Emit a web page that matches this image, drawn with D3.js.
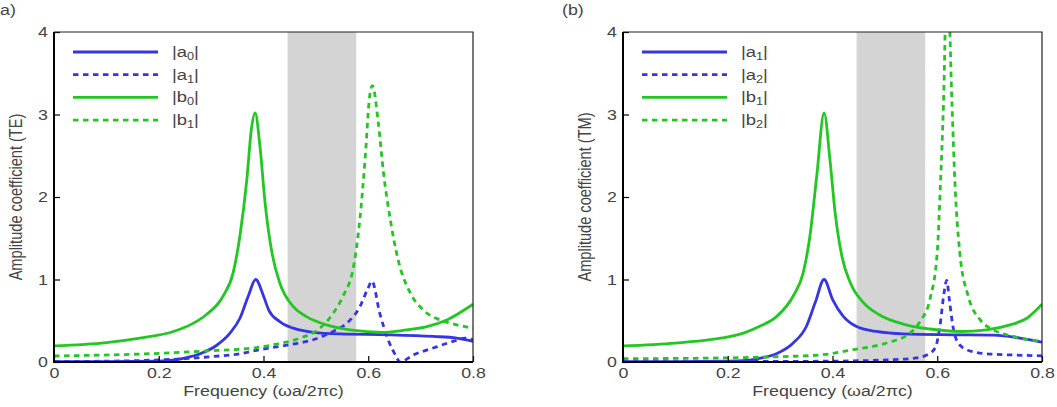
<!DOCTYPE html>
<html>
<head>
<meta charset="utf-8">
<script src="https://cdn.jsdelivr.net/npm/d3@7"></script>
<style>
  body { margin: 0; background: #fff; }
  svg { font-family: "Liberation Sans", Arial, sans-serif; }
  .tick text { fill: #444; font-size: 14px; }
  .tick line { stroke: #000; stroke-width: 1.2; }
  .title { fill: #444; font-size: 14px; }
</style>
</head>
<body>
<script>
// [frequency, amplitude]
var teA0 = [[0,0.003],[0.1,0.005],[0.2,0.01],[0.215,0.015],[0.247,0.045],[0.279,0.1],[0.31,0.2],[0.336,0.35],[0.355,0.53],[0.371,0.8],[0.385,1.0],[0.4,0.8],[0.41,0.63],[0.431,0.49],[0.457,0.41],[0.495,0.36],[0.546,0.34],[0.641,0.33],[0.724,0.31],[0.769,0.29],[0.8,0.25]];
var teA1 = [[0,0.005],[0.1,0.01],[0.2,0.025],[0.25,0.04],[0.3,0.065],[0.355,0.1],[0.393,0.15],[0.45,0.21],[0.495,0.27],[0.533,0.37],[0.559,0.47],[0.584,0.67],[0.6,0.9],[0.607,0.98],[0.622,0.59],[0.638,0.27],[0.654,0.06],[0.66,0.0],[0.686,0.085],[0.724,0.17],[0.762,0.25],[0.785,0.29],[0.8,0.27]];
var teB0 = [[0,0.195],[0.1,0.235],[0.164,0.29],[0.228,0.37],[0.26,0.45],[0.29,0.57],[0.323,0.8],[0.342,1.08],[0.355,1.53],[0.368,2.2],[0.377,2.83],[0.384,3.02],[0.393,2.63],[0.403,1.93],[0.416,1.33],[0.431,0.96],[0.457,0.67],[0.482,0.55],[0.52,0.45],[0.565,0.39],[0.629,0.36],[0.673,0.39],[0.712,0.43],[0.75,0.51],[0.8,0.7]];
var teB1 = [[0,0.073],[0.2,0.105],[0.29,0.134],[0.355,0.155],[0.387,0.175],[0.419,0.21],[0.47,0.29],[0.508,0.41],[0.533,0.59],[0.552,0.8],[0.572,1.16],[0.584,1.73],[0.594,2.46],[0.603,3.24],[0.608,3.35],[0.619,2.91],[0.629,2.3],[0.642,1.73],[0.657,1.24],[0.68,0.84],[0.705,0.63],[0.737,0.51],[0.769,0.45],[0.8,0.41]];

var tmA1 = [[0,0.003],[0.1,0.005],[0.2,0.01],[0.23,0.015],[0.26,0.045],[0.293,0.1],[0.325,0.23],[0.35,0.43],[0.367,0.72],[0.384,1.0],[0.4,0.76],[0.421,0.55],[0.446,0.43],[0.484,0.37],[0.535,0.34],[0.63,0.33],[0.707,0.325],[0.758,0.29],[0.8,0.24]];
var tmA2 = [[0,0.003],[0.2,0.005],[0.4,0.01],[0.45,0.015],[0.503,0.025],[0.554,0.045],[0.58,0.085],[0.596,0.17],[0.605,0.43],[0.613,0.84],[0.618,0.99],[0.623,0.76],[0.63,0.43],[0.64,0.23],[0.656,0.15],[0.694,0.1],[0.745,0.085],[0.8,0.075]];
var tmB1 = [[0,0.195],[0.1,0.23],[0.166,0.27],[0.23,0.35],[0.26,0.43],[0.293,0.55],[0.325,0.8],[0.344,1.08],[0.357,1.53],[0.37,2.26],[0.384,3.02],[0.395,2.46],[0.405,1.81],[0.418,1.28],[0.434,0.96],[0.459,0.72],[0.49,0.57],[0.535,0.46],[0.586,0.4],[0.643,0.37],[0.694,0.39],[0.739,0.45],[0.771,0.53],[0.8,0.7]];
var tmB2 = [[0,0.04],[0.2,0.05],[0.3,0.065],[0.376,0.085],[0.44,0.15],[0.503,0.23],[0.548,0.35],[0.567,0.49],[0.586,0.76],[0.6,1.33],[0.606,2.14],[0.612,3.15],[0.619,4.8],[0.628,3.15],[0.634,2.14],[0.643,1.33],[0.659,0.8],[0.682,0.51],[0.707,0.39],[0.745,0.31],[0.8,0.25]];

var gapBand = [0.446, 0.577];
var xTicks = [0, 0.2, 0.4, 0.6, 0.8];
var yTicks = [0, 1, 2, 3, 4];

const W = 1057, H = 407;
const BLUE = "#3535e6", GREEN = "#22c722";
const SX = 1.27; // the figure text is stretched sideways

var svg = d3.select("body").append("svg").attr("width", W).attr("height", H);

var drawPanel = function(opt){
  var left = opt.left, top = 32, w = 419, h = 330;
  var x = d3.scaleLinear().domain([0, 0.8]).range([0, w]);
  var y = d3.scaleLinear().domain([0, 4]).range([h, 0]);
  var g = svg.append("g").attr("transform", "translate(" + left + "," + top + ")");

  g.append("clipPath").attr("id", opt.id + "clip")
    .append("rect").attr("width", w).attr("height", h);

  g.append("rect")
    .attr("x", x(gapBand[0])).attr("y", 0)
    .attr("width", x(gapBand[1]) - x(gapBand[0])).attr("height", h)
    .attr("fill", "#d4d4d4");

  var line = d3.line()
    .x(function(d){ return x(d[0]); })
    .y(function(d){ return y(d[1]); })
    .curve(d3.curveMonotoneX);

  var plot = g.append("g").attr("clip-path", "url(#" + opt.id + "clip)");
  opt.series.forEach(function(s){
    plot.append("path")
      .attr("d", line(s.data))
      .attr("fill", "none")
      .attr("stroke", s.color)
      .attr("stroke-width", 2.8)
      .attr("stroke-dasharray", s.dash ? "5.5,4.5" : null);
  });

  var xAxis = d3.axisBottom(x).tickValues(xTicks).tickSize(-6).tickPadding(6)
    .tickFormat(function(d){ return d === 0 ? "0" : d3.format(".1f")(d); });
  var yAxis = d3.axisLeft(y).tickValues(yTicks).tickSize(-6)
    .tickFormat(d3.format("d"));

  var gx = g.append("g").attr("transform", "translate(0," + h + ")").call(xAxis);
  gx.select(".domain").remove();
  gx.selectAll(".tick text").attr("transform", "scale(" + SX + ",1)");
  var gy = g.append("g").call(yAxis);
  gy.select(".domain").remove();
  gy.selectAll(".tick text")
    .attr("x", -6 / SX).attr("dy", "0.35em")
    .attr("transform", "scale(" + SX + ",1)");

  // frame
  g.append("path").attr("d", "M0,0H" + w + "V" + h)
    .attr("fill", "none").attr("stroke", "#222").attr("stroke-width", 1.2);
  g.append("path").attr("d", "M0,0V" + h + "H" + w)
    .attr("fill", "none").attr("stroke", "#000").attr("stroke-width", 2);

  // legend
  var lg = g.append("g").attr("transform", "translate(19,20)");
  opt.series.forEach(function(s, i){
    var row = lg.append("g").attr("transform", "translate(0," + (i * 22.7) + ")");
    row.append("line").attr("x1", 0).attr("x2", 85)
      .attr("stroke", s.color).attr("stroke-width", 2.8)
      .attr("stroke-dasharray", s.dash ? "5.5,4.5" : null);
    var t = row.append("text")
      .attr("transform", "translate(99,5) scale(" + SX + ",1)")
      .attr("fill", "#444").style("font-size", "14.5px");
    t.append("tspan").text("|" + s.name);
    t.append("tspan").attr("dy", 3).style("font-size", "10px").text(s.sub);
    t.append("tspan").attr("dy", -3).text("|");
  });

  svg.append("text").attr("class", "title")
    .attr("text-anchor", "middle")
    .attr("transform", "translate(" + (left + w / 2) + ",396) scale(" + SX + ",1)")
    .text("Frequency (ωa/2πc)");
  svg.append("text").attr("class", "title")
    .attr("text-anchor", "middle")
    .attr("transform", "translate(" + (left - 32) + "," + (top + h / 2) + ") scale(" + SX + ",1) rotate(-90)")
    .style("font-size", "14.6px")
    .text(opt.ylabel);
  svg.append("text").attr("class", "title")
    .attr("transform", "translate(" + opt.tagX + ",15) scale(" + SX + ",1)")
    .text(opt.tag);
};

drawPanel({
  id: "te", left: 54, tag: "a)", tagX: 0,
  ylabel: "Amplitude coefficient (TE)",
  series: [
    {name: "a", sub: "0", data: teA0, color: BLUE, dash: false},
    {name: "a", sub: "1", data: teA1, color: BLUE, dash: true},
    {name: "b", sub: "0", data: teB0, color: GREEN, dash: false},
    {name: "b", sub: "1", data: teB1, color: GREEN, dash: true}
  ]
});

drawPanel({
  id: "tm", left: 623, tag: "(b)", tagX: 562,
  ylabel: "Amplitude coefficient (TM)",
  series: [
    {name: "a", sub: "1", data: tmA1, color: BLUE, dash: false},
    {name: "a", sub: "2", data: tmA2, color: BLUE, dash: true},
    {name: "b", sub: "1", data: tmB1, color: GREEN, dash: false},
    {name: "b", sub: "2", data: tmB2, color: GREEN, dash: true}
  ]
});
</script>
</body>
</html>
